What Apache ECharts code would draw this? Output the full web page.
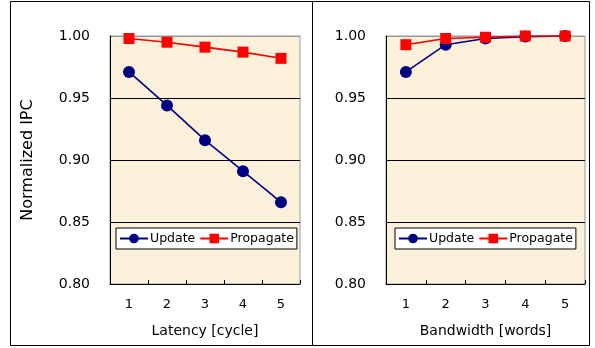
<!DOCTYPE html>
<html>
<head>
<meta charset="utf-8">
<script src="https://cdn.jsdelivr.net/npm/echarts@6/dist/echarts.min.js"></script>
<style>
html,body{margin:0;padding:0;background:#fff;}
#c{width:595px;height:348px;}
</style>
</head>
<body>
<div id="c"></div>
<script>
var categories = ['1', '2', '3', '4', '5'];
var latencyUpdate = [0.971, 0.944, 0.916, 0.891, 0.866];
var latencyPropagate = [0.998, 0.995, 0.991, 0.987, 0.982];
var bandwidthUpdate = [0.971, 0.993, 0.998, 0.9995, 1.0];
var bandwidthPropagate = [0.993, 0.998, 0.999, 1.0, 1.0];
var yTicks = [0.80, 0.85, 0.90, 0.95, 1.00];

var FONT = 'DejaVu Sans';
var NAVY = '#000080';
var RED = '#FF0000';
var BG = '#FBF0DA';

var chart = echarts.init(document.getElementById('c'), null, {renderer: 'canvas'});

function xAxis(gi, name) {
  return {
    type: 'category', gridIndex: gi, data: categories, boundaryGap: true,
    name: name, nameLocation: 'middle', nameGap: 40,
    nameTextStyle: {fontFamily: FONT, fontSize: 14, color: '#000'},
    axisLine: {lineStyle: {color: '#000', width: 1}},
    axisTick: {show: true, inside: true, length: 4, lineStyle: {color: '#000'}},
    axisLabel: {fontFamily: FONT, fontSize: 13, color: '#000', margin: 14},
    splitLine: {show: false}
  };
}
function yAxis(gi, name) {
  return {
    type: 'value', gridIndex: gi, min: yTicks[0], max: yTicks[yTicks.length - 1], interval: 0.05,
    name: name, nameLocation: 'middle', nameGap: 74, nameRotate: 90,
    nameTextStyle: {fontFamily: FONT, fontSize: 16, color: '#000'},
    axisLine: {show: true, lineStyle: {color: '#000', width: 1}},
    axisTick: {show: false},
    axisLabel: {fontFamily: FONT, fontSize: 14, color: '#000', margin: 20,
      formatter: function (v) { return v.toFixed(2); }},
    splitLine: {show: true, lineStyle: {color: ['#000', '#000', '#000', '#000', '#999'], width: 1}}
  };
}
function legend(left) {
  return {
    left: left, top: 228, orient: 'horizontal',
    data: ['Update', 'Propagate'],
    backgroundColor: '#fff', borderColor: '#000', borderWidth: 1,
    padding: [4, 3], itemWidth: 28, itemHeight: 12, itemGap: 4,
    textStyle: {fontFamily: FONT, fontSize: 12.5, color: '#000', padding: [0, 0, 0, -3]},
    selectedMode: false
  };
}
function series(name, xi, data) {
  var isU = name === 'Update';
  return {
    name: name, type: 'line', xAxisIndex: xi, yAxisIndex: xi, data: data,
    symbol: isU ? 'circle' : 'rect', symbolSize: isU ? 12 : 11,
    lineStyle: {color: isU ? NAVY : RED, width: 1.6},
    itemStyle: {color: isU ? NAVY : RED, borderWidth: 0},
    z: isU ? 2 : 3, animation: false
  };
}

chart.setOption({
  animation: false,
  grid: [
    {left: 110, top: 36, width: 190, height: 248, show: true, backgroundColor: BG, borderColor: '#999', borderWidth: 1},
    {left: 386, top: 36, width: 199, height: 248, show: true, backgroundColor: BG, borderColor: '#999', borderWidth: 1}
  ],
  xAxis: [xAxis(0, 'Latency [cycle]'), xAxis(1, 'Bandwidth [words]')],
  yAxis: [yAxis(0, 'Normalized IPC'), yAxis(1, '')],
  legend: [legend(116), legend(395)],
  graphic: [
    {type: 'rect', shape: {x: 10.5, y: 1.5, width: 302, height: 344}, style: {fill: 'none', stroke: '#000', lineWidth: 1}, z: 100},
    {type: 'rect', shape: {x: 312.5, y: 1.5, width: 277, height: 344}, style: {fill: 'none', stroke: '#000', lineWidth: 1}, z: 100}
  ],
  series: [
    series('Update', 0, latencyUpdate),
    series('Propagate', 0, latencyPropagate),
    series('Update', 1, bandwidthUpdate),
    series('Propagate', 1, bandwidthPropagate)
  ]
});
</script>
</body>
</html>
